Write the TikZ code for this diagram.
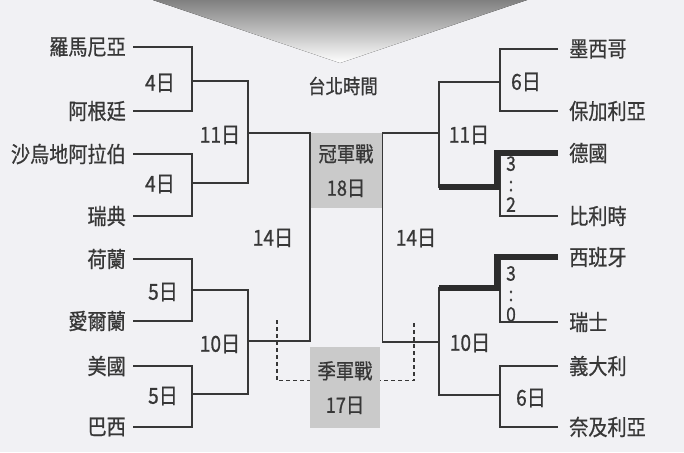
\documentclass[tikz,border=0pt]{standalone}
\usepackage{fontspec}
\newfontfamily\cjk[FakeStretch=0.87, FakeBold=0.7]{Noto Sans CJK TC}
\usepackage{xcolor}
\usepackage{tikz}
\definecolor{paper}{RGB}{241,241,244}
\definecolor{ink}{RGB}{55,55,55}
\definecolor{shade}{RGB}{202,202,202}

\begin{document}
\begin{tikzpicture}[
    x=1pt, y=-1pt,
    line/.style={draw=ink, line width=1.4pt},
    winner/.style={draw=ink!80!black, line width=6.5pt, line join=miter},
    third line/.style={draw=ink, line width=1.4pt, dash pattern=on 4pt off 3pt},
    team left/.style={anchor=east, inner xsep=7pt, inner ysep=0pt, text=ink, font=\cjk\fontsize{22}{24}\selectfont},
    team right/.style={anchor=west, inner xsep=11pt, inner ysep=0pt, text=ink, font=\cjk\fontsize{22}{24}\selectfont},
    day/.style={inner sep=0pt, text=ink, font=\cjk\fontsize{22}{24}\selectfont},
    score/.style={inner sep=0pt, align=center, text=ink, font=\cjk\fontsize{20}{20.5}\selectfont},
    final box/.style={fill=shade, anchor=north, inner sep=0pt, align=center, text=ink, font=\cjk\fontsize{21}{34}\selectfont}
]

\fill[paper] (0,0) rectangle (684,452);
\useasboundingbox (0,0) rectangle (684,452);
\fill[shade] (153,0) -- (527,0) -- (340,63) -- cycle;

\node[text=ink, inner sep=0pt, font=\cjk\fontsize{20}{22}\selectfont] (tpe) at (343,86) {台北時間};
\node[final box, minimum width=72pt, minimum height=75pt] (champ) at (346,133) {冠軍戰\\18日};
\node[final box, minimum width=70pt, minimum height=81pt] (third) at (345,347) {季軍戰\\17日};

\node[team left] (rom) at (133,47) {羅馬尼亞};
\node[team left] (arg) at (133,111) {阿根廷};
\node[team left] (ksa) at (133,154) {沙烏地阿拉伯};
\node[team left] (swe) at (133,216) {瑞典};
\node[team left] (ned) at (133,259) {荷蘭};
\node[team left] (irl) at (133,321) {愛爾蘭};
\node[team left] (usa) at (133,366) {美國};
\node[team left] (bra) at (133,427) {巴西};

\node[team right] (mex) at (558,49) {墨西哥};
\node[team right] (bul) at (558,111) {保加利亞};
\node[team right] (ger) at (558,153) {德國};
\node[team right] (bel) at (558,216) {比利時};
\node[team right] (esp) at (558,257) {西班牙};
\node[team right] (sui) at (558,322) {瑞士};
\node[team right] (ita) at (558,366) {義大利};
\node[team right] (nga) at (558,427) {奈及利亞};

\node[day] (d1) at (160,83) {4日};
\node[day] (d2) at (160,184) {4日};
\node[day] (d3) at (163,292) {5日};
\node[day] (d4) at (163,396) {5日};
\node[day] (d5) at (220,135) {11日};
\node[day] (d6) at (220,344) {10日};
\node[day] (d7) at (273,238) {14日};
\node[day] (d8) at (526,82) {6日};
\node[day] (d9) at (469,135) {11日};
\node[day] (d10) at (416,238) {14日};
\node[day] (d11) at (470,343) {10日};
\node[day] (d12) at (531,398) {6日};
\node[score] (s1) at (511,184) {3\\:\\2};
\node[score] (s2) at (511,294) {3\\:\\0};

\coordinate (qa) at (192,81);
\coordinate (qb) at (192,183);
\coordinate (qc) at (192,290);
\coordinate (qd) at (192,394);
\coordinate (sa) at (248,133);
\coordinate (sb) at (248,341);
\coordinate (ra) at (500,82);
\coordinate (rb) at (500,187);
\coordinate (rc) at (500,288);
\coordinate (rd) at (500,395);
\coordinate (sc) at (439,133);
\coordinate (sd) at (439,342);
\coordinate (tl) at (277,320);
\coordinate (tr) at (414,323);

\draw[line] (rom.east) -| (qa) |- (arg.east);
\draw[line] (ksa.east) -| (qb) |- (swe.east);
\draw[line] (ned.east) -| (qc) |- (irl.east);
\draw[line] (usa.east) -| (qd) |- (bra.east);
\draw[line] (qa) -| (sa) |- (qb);
\draw[line] (qc) -| (sb) |- (qd);
\draw[line] (sa) -| (champ.north west) |- (sb);

\draw[line] (mex.west) -| (ra) |- (bul.west);
\draw[line] (ger.west) -| (rb) |- (bel.west);
\draw[line] (esp.west) -| (rc) |- (sui.west);
\draw[line] (ita.west) -| (rd) |- (nga.west);
\draw[line] (ra) -| (sc) |- (rb);
\draw[line] (rc) -| (sd) |- (rd);
\draw[line] (sc) -| (champ.north east) |- (sd);

\draw[winner] (ger.west) -| ([xshift=-3pt]rb) -- (sc |- rb);
\draw[winner] (esp.west) -| ([xshift=-3pt]rc) -- (sd |- rc);

\draw[third line] (tl) |- ([yshift=7pt]third.west);
\draw[third line] (tr) |- ([yshift=7pt]third.east);

\end{tikzpicture}
\end{document}
